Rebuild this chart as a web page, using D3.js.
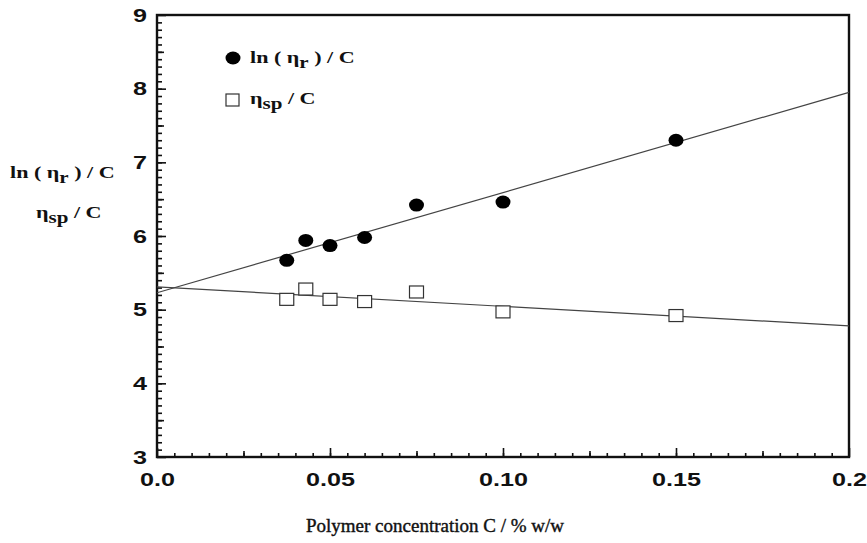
<!DOCTYPE html>
<html>
<head>
<meta charset="utf-8">
<script src="https://cdn.jsdelivr.net/npm/d3@7"></script>
<style>
    body { margin: 0; background: #fff; }
    .tick text { font-family: "Liberation Sans", Arial, sans-serif; font-weight: bold; font-size: 18px; fill: #111; }
    .lbl { font-family: "Liberation Serif", "Times New Roman", serif; font-weight: bold; fill: #111; }
</style>
</head>
<body>
<div id="chart"></div>
<script>
// data
var conc = [0.0375, 0.043, 0.05, 0.06, 0.075, 0.10, 0.15];
var lnEtaR = [5.67, 5.94, 5.87, 5.98, 6.42, 6.46, 7.30];
var etaSp = [5.14, 5.28, 5.14, 5.11, 5.24, 4.97, 4.92];
// fitted lines, value at C = 0 and C = 0.2
var fitEnds = [0, 0.2];
var fitLn = [5.23, 7.95];
var fitSp = [5.31, 4.78];
var xTicks = [0, 0.05, 0.10, 0.15, 0.2];
var xTickLabels = ["0.0", "0.05", "0.10", "0.15", "0.2"];
var yTicks = [3, 4, 5, 6, 7, 8, 9];

var width = 867, height = 543;
var margin = {top: 15, right: 18, bottom: 86, left: 157};
var stretch = 1.4; // the scan is wider than tall, so glyphs look stretched

var svg = d3.select("#chart").append("svg")
    .attr("width", width)
    .attr("height", height);

var x = d3.scaleLinear().domain([0, 0.2]).range([margin.left, width - margin.right]);
var y = d3.scaleLinear().domain([3, 9]).range([height - margin.bottom, margin.top]);

// minor / medium ticks, drawn inside the frame
function tickLayer(axis, vals, size, tr) {
    svg.append("g")
        .attr("transform", tr)
        .call(axis.tickValues(vals).tickSize(-size).tickFormat(""))
        .call(function (g) { g.select(".domain").remove(); })
        .selectAll("line").attr("stroke", "#111").attr("stroke-width", 1.6);
}
var bottomTr = "translate(0," + y(3) + ")", leftTr = "translate(" + x(0) + ",0)";
tickLayer(d3.axisBottom(x), d3.range(1, 40).map(function (i) { return i * 0.005; }), 4, bottomTr);
tickLayer(d3.axisBottom(x), [0.025, 0.075, 0.125, 0.175], 6, bottomTr);
tickLayer(d3.axisLeft(y), d3.range(31, 90).map(function (i) { return i / 10; }), 5, leftTr);
tickLayer(d3.axisLeft(y), [3.5, 4.5, 5.5, 6.5, 7.5, 8.5], 7, leftTr);

function widen(g) {
    g.select(".domain").remove();
    g.selectAll("line").attr("stroke", "#111").attr("stroke-width", 1.6);
    g.selectAll("text")
        .attr("x", function () { return +d3.select(this).attr("x") / stretch; })
        .attr("transform", "scale(" + stretch + ",1)");
}

// major ticks with labels
svg.append("g")
    .attr("transform", bottomTr)
    .call(d3.axisBottom(x).tickValues(xTicks).tickSize(-9).tickPadding(16)
        .tickFormat(function (d, i) { return xTickLabels[i]; }))
    .call(widen);

svg.append("g")
    .attr("transform", leftTr)
    .call(d3.axisLeft(y).tickValues(yTicks).tickSize(-9).tickPadding(10).tickFormat(d3.format("d")))
    .call(widen)
    .call(function (g) { g.selectAll("text").attr("dy", "0.34em"); });

// frame
svg.append("rect")
    .attr("x", x(0)).attr("y", y(9))
    .attr("width", x(0.2) - x(0)).attr("height", y(3) - y(9))
    .attr("fill", "none").attr("stroke", "#111").attr("stroke-width", 2.4);

// fitted lines
var line = d3.line()
    .x(function (d) { return x(d[0]); })
    .y(function (d) { return y(d[1]); });

[fitLn, fitSp].forEach(function (f) {
    svg.append("path")
        .datum(fitEnds.map(function (c, i) { return [c, f[i]]; }))
        .attr("d", line)
        .attr("fill", "none")
        .attr("stroke", "#444")
        .attr("stroke-width", 1.2);
});

// points
svg.selectAll("ellipse.ln")
    .data(conc)
    .enter().append("ellipse")
    .attr("class", "ln")
    .attr("cx", function (d) { return x(d); })
    .attr("cy", function (d, i) { return y(lnEtaR[i]); })
    .attr("rx", 7.5).attr("ry", 6.5)
    .attr("fill", "#000");

svg.selectAll("rect.sp")
    .data(conc)
    .enter().append("rect")
    .attr("class", "sp")
    .attr("x", function (d) { return x(d) - 7; })
    .attr("y", function (d, i) { return y(etaSp[i]) - 6; })
    .attr("width", 14).attr("height", 12)
    .attr("fill", "#fff")
    .attr("stroke", "#333")
    .attr("stroke-width", 1.2);

// text with subscript helper
function label(xp, yp, parts, size, sx) {
    var t = svg.append("text").attr("class", "lbl")
        .attr("transform", "translate(" + xp + "," + yp + ") scale(" + sx + ",1)")
        .style("font-size", size + "px");
    parts.forEach(function (p) {
        var s = t.append("tspan").text(p[0]);
        if (p[1]) s.attr("baseline-shift", "-30%").style("font-size", (size * 0.95) + "px");
    });
    return t;
}
var lnParts = [["ln ( η"], ["r", true], [" )  / C"]];
var spParts = [["η"], ["sp", true], [" / C"]];

// legend
svg.append("ellipse").attr("cx", 233).attr("cy", 58).attr("rx", 7.5).attr("ry", 6.5).attr("fill", "#000");
label(250, 63, lnParts, 17, 1.3);
svg.append("rect").attr("x", 226).attr("y", 94).attr("width", 13).attr("height", 12)
    .attr("fill", "#fff").attr("stroke", "#333").attr("stroke-width", 1.2);
label(250, 104, spParts, 17, 1.3);

// y axis title (two lines)
label(10, 178, lnParts, 17, 1.3);
label(36, 218, spParts, 17, 1.3);

// x axis title
svg.append("text").attr("class", "lbl")
    .attr("x", 435).attr("y", 532)
    .attr("text-anchor", "middle")
    .style("font-size", "19px")
    .style("font-weight", "normal")
    .style("stroke", "#111").style("stroke-width", 0.4)
    .text("Polymer concentration C / % w/w");
</script>
</body>
</html>
